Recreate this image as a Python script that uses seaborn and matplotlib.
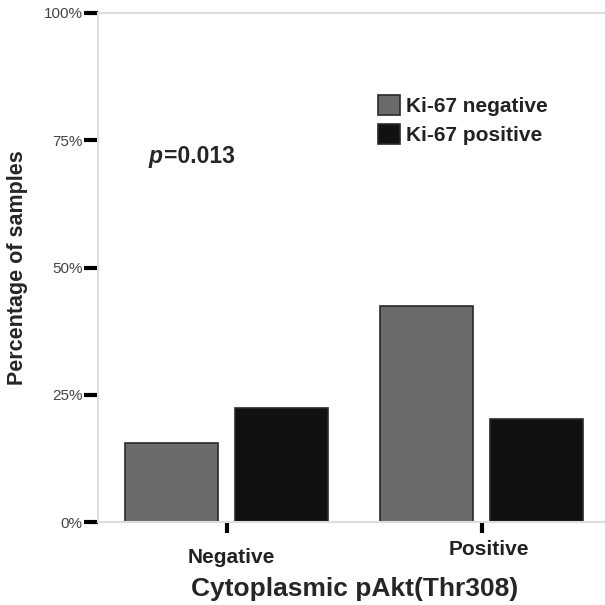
import matplotlib
matplotlib.use("Agg")
import matplotlib.pyplot as plt
import matplotlib.transforms as mtransforms
import seaborn as sns
import pandas as pd
from matplotlib.patches import Patch

categories = ["Negative", "Positive"]
series = ["Ki-67 negative", "Ki-67 positive"]
ki67_negative = [15.5, 42.4]
ki67_positive = [22.4, 20.2]
yticks = [0, 25, 50, 75, 100]
ytick_labels = ["0%", "25%", "50%", "75%", "100%"]

df = pd.DataFrame({
    "cat": categories * 2,
    "series": [series[0]] * 2 + [series[1]] * 2,
    "val": ki67_negative + ki67_positive,
})

sns.set_style("white")
plt.rcParams["font.family"] = ["Liberation Sans", "DejaVu Sans"]

colors = ["#6b6b6b", "#111111"]
fig = plt.figure(figsize=(6.05, 6.05), dpi=100)
ax = fig.add_axes([98/605, 1-522/605, (605-98)/605, (522-13)/605])

sns.barplot(data=df, x="cat", y="val", hue="series", order=categories,
            hue_order=series, palette=colors, width=0.86, gap=0.15,
            edgecolor="#2a2a2a", linewidth=1.2, legend=False, ax=ax)

ax.set_xlim(-0.504, 1.484)
ax.set_ylim(0, 100)
ax.set_yticks(yticks)
ax.set_yticklabels(ytick_labels, fontsize=11, color="#444444")
ax.tick_params(axis="y", length=10, width=3, color="black", left=True, pad=1)
ax.tick_params(axis="x", length=8, width=3, color="black", bottom=True, pad=10)

offsets = [(5, -1), (7, 7)]
for lab, (dx, dy) in zip(ax.get_xticklabels(), offsets):
    lab.set_fontweight("bold")
    lab.set_fontsize(15)
    lab.set_color("#222222")
    lab.set_transform(lab.get_transform() +
                      mtransforms.ScaledTranslation(dx/100, dy/100, fig.dpi_scale_trans))

for s in ["left", "bottom", "top"]:
    ax.spines[s].set_color("#dddddd")
    ax.spines[s].set_linewidth(1.5)
ax.spines["right"].set_visible(False)

ax.set_xlabel("Cytoplasmic pAkt(Thr308)", fontsize=19, fontweight="bold")
ax.xaxis.set_label_coords(0.507, -0.108)
ax.set_ylabel("Percentage of samples", fontsize=15.5, fontweight="bold")
ax.yaxis.set_label_coords(-0.138, 0.5)

t1 = ax.text(-0.305, 71.8, "p", fontsize=16.5, fontweight="bold", fontstyle="italic",
             ha="left", va="center")
ax.annotate("=0.013", xy=(1, 0), xycoords=t1, xytext=(1, 0), textcoords="offset points",
            fontsize=16.5, fontweight="bold", ha="left", va="bottom")

handles = [Patch(facecolor=c, edgecolor="#2a2a2a", linewidth=1.2) for c in colors]
leg = ax.legend(handles, series, loc="upper left", bbox_to_anchor=(0.535, 0.855),
                frameon=False, fontsize=15, handlelength=1.1, handleheight=1.1,
                handletextpad=0.25, labelspacing=0.35, borderaxespad=0)
for t in leg.get_texts():
    t.set_fontweight("bold")
    t.set_color("#222222")

fig.savefig("out.png", dpi=100)
